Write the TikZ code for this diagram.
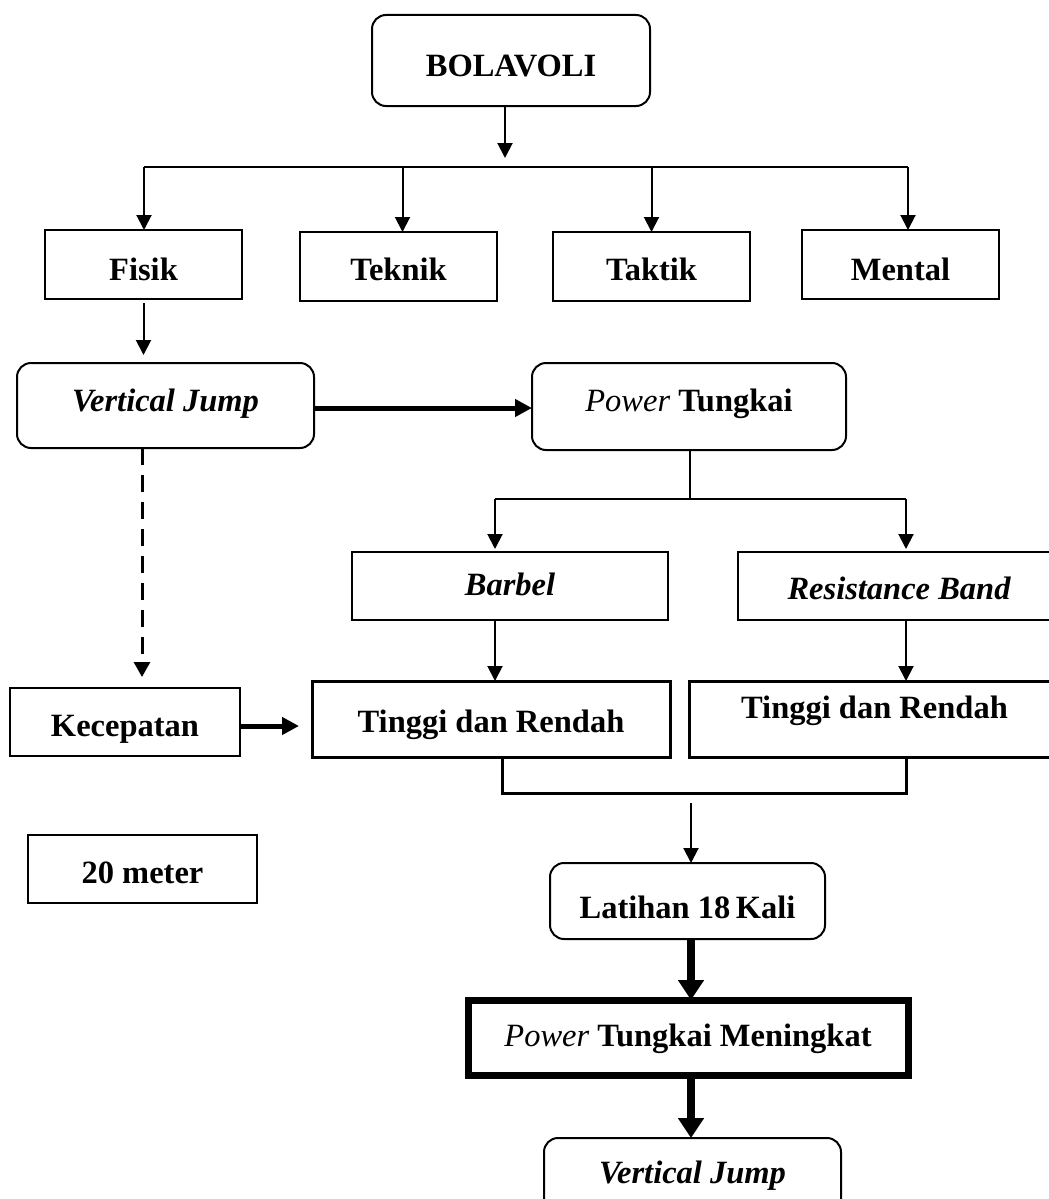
\documentclass[tikz,border=0pt]{standalone}
\usepackage{fontspec}
\setmainfont{Liberation Serif}
\usetikzlibrary{arrows.meta}
\begin{document}
\begin{tikzpicture}[x=1pt,y=-1pt,
  box/.style={draw, line width=2pt, inner sep=0pt, outer sep=0pt,
    font=\fontsize{32.5}{38}\selectfont\bfseries, text depth=0pt, align=center},
  th/.style={text height=#1},
  rbox/.style={box, rounded corners=14pt},
  tbox/.style={box, line width=3pt},
  conn/.style={line width=2pt},
  arr/.style={line width=2pt, -{Triangle[length=15pt,width=15pt]}},
  dasharr/.style={line width=3pt, dash pattern=on 17pt off 10pt, -{Triangle[length=15pt,width=16pt]}},
  tarr/.style={line width=5pt, -{Triangle[length=17pt,width=17pt]}},
  vtarr/.style={line width=8pt, -{Triangle[length=20pt,width=25pt]}}
]
\clip (0,0) rectangle (1049,1199);
\fill[white] (0,0) rectangle (1049,1199);

% nodes
\node[rbox, th=33pt, minimum width=278pt, minimum height=91pt] (bol) at (511,60.5) {BOLAVOLI};
\node[box, th=32pt, minimum width=197pt, minimum height=69pt] (fisik) at (143.5,264.5) {Fisik};
\node[box, th=28pt, minimum width=197pt, minimum height=69pt] (teknik) at (398.5,266.5) {Teknik};
\node[box, th=28pt, minimum width=197pt, minimum height=69pt] (taktik) at (651.5,266.5) {Taktik};
\node[box, th=32pt, minimum width=197pt, minimum height=69pt] (mental) at (900.5,264.5) {Mental};
\node[rbox, th=11pt, minimum width=297pt, minimum height=85pt] (vj1) at (165.5,405.5) {\itshape Vertical Jump};
\node[rbox, th=9pt, minimum width=314pt, minimum height=87pt] (pt) at (689,406.5) {{\mdseries\itshape Power} Tungkai};
\node[box, th=19pt, minimum width=316pt, minimum height=68pt] (barbel) at (510,586) {\itshape Barbel};
\node[box, th=27pt, minimum width=322pt, minimum height=68pt] (rb) at (899,586) {\itshape Resistance Band};
\node[tbox, th=27pt, minimum width=358pt, minimum height=76pt] (t1) at (491,719) {Tinggi dan Rendah};
\node[tbox, th=0pt, text depth=1pt, minimum width=371pt, minimum height=76pt] (t2) at (874.5,719) {Tinggi dan Rendah};
\node[box, th=29pt, minimum width=230pt, minimum height=68pt] (kec) at (125,722) {Kecepatan};
\node[box, th=29pt, minimum width=229pt, minimum height=68pt] (meter) at (142.5,869) {20 meter};
\node[rbox, th=35pt, minimum width=275pt, minimum height=76pt] (lat) at (687.5,901) {Latihan 18\,Kali};
\node[box, th=17pt, line width=7pt, minimum width=440pt, minimum height=75pt] (ptm) at (688,1037.5) {{\mdseries\itshape Power} Tungkai Meningkat};
\node[rbox, th=15pt, minimum width=297pt, minimum height=76pt] (vj2) at (692.5,1176) {\itshape Vertical Jump};

% junction coordinates
\coordinate (j0) at (505,158);
\coordinate (hL) at (144,167);
\coordinate (hR) at (908,167);
\coordinate (pj) at (690,499);
\coordinate (bL) at (495,499);
\coordinate (bR) at (906,499);
\coordinate (ka) at (299,726);
\coordinate (brL) at (502,793);
\coordinate (brR) at (906,793);
\coordinate (la) at (691,803);

% connectors
\draw[arr] (bol.south -| j0) -- (j0);
\draw[conn] (hL) -- (hR);
\draw[arr] (hL) -- (hL |- fisik.north);
\draw[arr] ([xshift=4pt]teknik.north |- hL) -- ([xshift=4pt]teknik.north);
\draw[arr] (taktik.north |- hL) -- (taktik.north);
\draw[arr] (hR) -- (hR |- mental.north);

\draw[arr] ([yshift=-4pt]fisik.south) -- ([yshift=8pt]fisik.south |- vj1.north);
\draw[tarr] ([yshift=-2.5pt]vj1.east) -- ([yshift=-1.5pt]pt.west);
\draw[conn] (pt.south -| pj) -- (pj);
\draw[conn] (bL) -- (bR);
\draw[arr] (bL) -- ([yshift=3pt]barbel.north -| bL);
\draw[arr] (bR) -- ([yshift=3pt]rb.north -| bR);
\draw[arr] (barbel.south -| bL) -- (t1.north -| bL);
\draw[arr] (rb.south -| bR) -- (t2.north -| bR);
\draw[dasharr] ([xshift=-23.5pt]vj1.south) -- ([xshift=17pt,yshift=11pt]kec.north);
\draw[tarr] (kec.east |- ka) -- (ka);
\draw[line width=3pt] (t1.south -| brL) -- (brL) -- (brR) -- (t2.south -| brR);
\draw[arr] (la) -- (lat.north -| la);
\draw[vtarr] (lat.south -| la) -- (ptm.north -| la);
\draw[vtarr] (ptm.south -| la) -- (vj2.north -| la);
\end{tikzpicture}
\end{document}
